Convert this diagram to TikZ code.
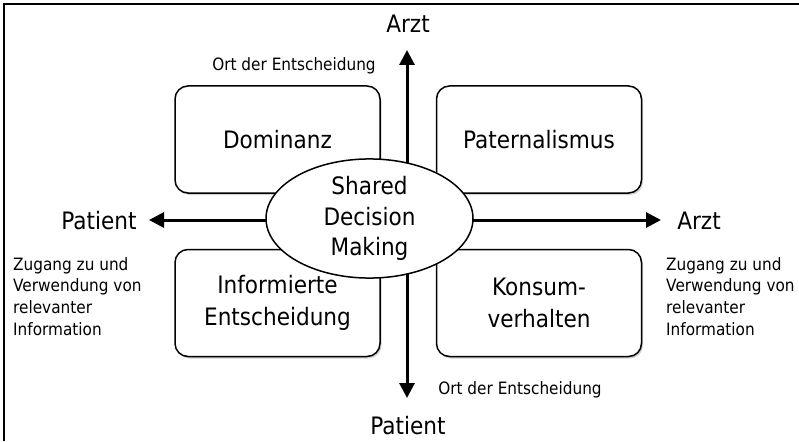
\documentclass[tikz,border=0pt]{standalone}
\usepackage{fontspec}
\setmainfont{DejaVu Sans}[FakeStretch=0.9]
\usetikzlibrary{arrows.meta,shadows,shapes.geometric}
\begin{document}
\begin{tikzpicture}[x=1pt,y=-1pt,
  box/.style={draw,line width=1.5pt,rounded corners=13pt,minimum width=205pt,minimum height=107pt,
    align=center,font=\fontsize{24}{32}\selectfont,fill=white,
    drop shadow={shadow xshift=1.5pt,shadow yshift=-2pt,opacity=0.35}},
  big/.style={font=\fontsize{24}{28}\selectfont,inner sep=0pt},
  small/.style={font=\fontsize{17}{21.7}\selectfont,align=left,inner sep=0pt},
  axis/.style={line width=3pt,{Triangle[width=15pt,length=15pt]}-{Triangle[width=15pt,length=15pt]}}]
\useasboundingbox (0,0) rectangle (799,441);
\draw[line width=1.3pt] (4,441) -- (4,4) -- (799,4);

% boxes
\node[box] (dom) at (277.5,139.5) {Dominanz};
\node[box] (pat) at (539,139.5) {Paternalismus};
\node[box] (inf) at (277.5,303) {Informierte\\Entscheidung};
\node[box] (kon) at (539,303) {Konsum-\\verhalten};

% axes
\coordinate (vtop) at (407,50);
\coordinate (vbot) at (407,398);
\coordinate (hl) at (149,220);
\coordinate (hr) at (661,220);
\draw[axis] (vbot) -- (vtop);
\draw[axis] (hl) -- (hr);

% centre
\node[draw,fill=white,ellipse,line width=1.5pt,inner sep=0pt,minimum width=207pt,minimum height=119pt,
  align=center,font=\fontsize{24}{30.5}\selectfont] (sdm) at (369.5,218.5) {Shared\\Decision\\Making};

% axis labels
\node[big] (arzttop) at (408,24) {Arzt};
\node[big,anchor=base] (patbot) at (408,434) {Patient};
\node[big] (patleft) at (99,221) {Patient};
\node[big] (arztright) at (699,221) {Arzt};

\node[small] (orttop) at (294,66) {Ort der Entscheidung};
\node[small] (ortbot) at (520,390) {Ort der Entscheidung};

\node[small,anchor=north west] (infol) at (13,257) {Zugang zu und\\Verwendung von\\relevanter\\Information};
\node[small,anchor=north west] (infor) at (666,257) {Zugang zu und\\Verwendung von\\relevanter\\Information};
\end{tikzpicture}
\end{document}
